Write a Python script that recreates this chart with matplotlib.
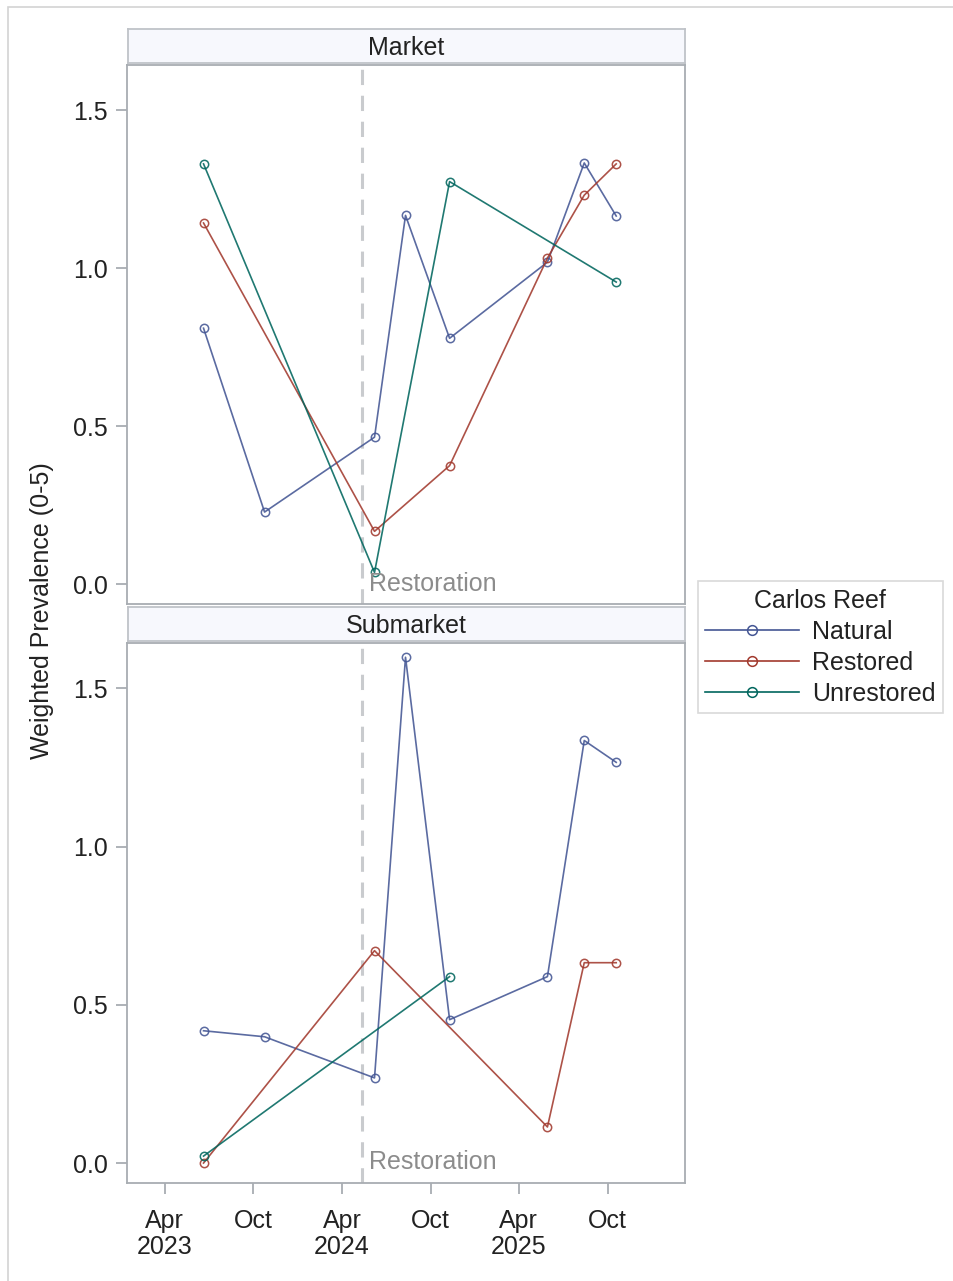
import matplotlib
matplotlib.use("Agg")
import matplotlib.pyplot as plt
from matplotlib.lines import Line2D
from matplotlib.patches import Rectangle
import pandas as pd

plt.rcParams['font.family'] = ['Liberation Sans', 'DejaVu Sans']

# ---------------- data ----------------
panels = ["Market", "Submarket"]
groups = ["Natural", "Restored", "Unrestored"]
colors = {"Natural": "#445694", "Restored": "#A23A2E", "Unrestored": "#01665E"}

market_natural_dates = ["2023-06-20", "2023-10-24", "2024-06-07", "2024-08-10", "2024-11-09", "2025-05-30", "2025-08-14", "2025-10-19"]
market_natural_vals = [0.81, 0.228, 0.465, 1.167, 0.778, 1.019, 1.333, 1.165]
market_restored_dates = ["2023-06-20", "2024-06-07", "2024-11-09", "2025-05-30", "2025-08-14", "2025-10-19"]
market_restored_vals = [1.143, 0.167, 0.375, 1.032, 1.231, 1.330]
market_unrestored_dates = ["2023-06-20", "2024-06-07", "2024-11-09", "2025-10-19"]
market_unrestored_vals = [1.330, 0.037, 1.274, 0.956]

sub_natural_dates = ["2023-06-20", "2023-10-24", "2024-06-07", "2024-08-10", "2024-11-09", "2025-05-30", "2025-08-14", "2025-10-19"]
sub_natural_vals = [0.418, 0.399, 0.269, 1.598, 0.453, 0.589, 1.335, 1.266]
sub_restored_dates = ["2023-06-20", "2024-06-07", "2025-05-30", "2025-08-14", "2025-10-19"]
sub_restored_vals = [0.0, 0.671, 0.114, 0.633, 0.633]
sub_unrestored_dates = ["2023-06-20", "2024-11-09"]
sub_unrestored_vals = [0.022, 0.589]

restoration_date = "2024-05-12"
restoration_label = "Restoration"
y_label = "Weighted Prevalence (0-5)"
legend_title = "Carlos Reef"
y_ticks = [0.0, 0.5, 1.0, 1.5]
x_ticks = ["2023-04-01", "2023-10-01", "2024-04-01", "2024-10-01", "2025-04-01", "2025-10-01"]
x_ticklabels = ["Apr\n2023", "Oct", "Apr\n2024", "Oct", "Apr\n2025", "Oct"]

data = {
    "Market": {
        "Natural": (market_natural_dates, market_natural_vals),
        "Restored": (market_restored_dates, market_restored_vals),
        "Unrestored": (market_unrestored_dates, market_unrestored_vals),
    },
    "Submarket": {
        "Natural": (sub_natural_dates, sub_natural_vals),
        "Restored": (sub_restored_dates, sub_restored_vals),
        "Unrestored": (sub_unrestored_dates, sub_unrestored_vals),
    },
}

# ---------------- figure ----------------
W, H = 954, 1281
fig = plt.figure(figsize=(W / 100, H / 100), dpi=100)
fig.patch.set_facecolor("white")

def fbox(x0, y0, x1, y1):
    return [x0 / W, 1 - y1 / H, (x1 - x0) / W, (y1 - y0) / H]

# outer frame
fig.patches.append(Rectangle((8 / W, -0.01), 1.0, 1 - 7 / H + 0.01, transform=fig.transFigure,
                             fill=False, edgecolor="#D3D3D3", linewidth=1.2))

xlim = (pd.Timestamp("2023-01-13"), pd.Timestamp("2026-03-10"))
ylim = (-0.063, 1.643)
spine_col = "#A8ADB2"
fs = 18

panel_boxes = {"Market": (127, 65, 685, 604), "Submarket": (127, 643, 685, 1183)}
header_boxes = {"Market": (128, 29, 685, 63), "Submarket": (128, 607, 685, 641)}

for p in panels:
    ax = fig.add_axes(fbox(*panel_boxes[p]))
    for g in groups:
        d, v = data[p][g]
        ax.plot(pd.to_datetime(d), v, color=colors[g], lw=1.2, marker="o", ms=6,
                mfc="none", mec=colors[g], mew=1.1, zorder=3, alpha=0.88)
    rd = pd.Timestamp(restoration_date)
    ax.axvline(rd, color="#C9CBCE", lw=2.2, ls=(0, (5, 3.5)), zorder=2)
    ax.text(rd + pd.Timedelta(days=14), 0.038, restoration_label, transform=ax.get_xaxis_transform(),
            color="#8C8C8C", fontsize=fs, ha="left", va="center")
    ax.set_xlim(*xlim)
    ax.set_ylim(*ylim)
    ax.set_yticks(y_ticks)
    ax.set_yticklabels([f"{t:.1f}" for t in y_ticks])
    for s in ax.spines.values():
        s.set_color(spine_col)
        s.set_linewidth(1.3)
    ax.tick_params(axis="both", colors=spine_col, labelcolor="#222222", labelsize=fs,
                   length=8, width=1.3, pad=6)
    ax.set_xticks(pd.to_datetime(x_ticks))
    if p == "Submarket":
        ax.set_xticklabels(x_ticklabels, linespacing=1.1)
        ax.tick_params(axis="x", pad=11)
    else:
        ax.tick_params(axis="x", length=0, labelbottom=False)

    hx = fig.add_axes(fbox(*header_boxes[p]))
    hx.set_facecolor("#F7F8FD")
    hx.set_xticks([]); hx.set_yticks([])
    for s in hx.spines.values():
        s.set_color("#BFC3C8")
        s.set_linewidth(1.3)
    hx.text(0.5, 0.45, p, ha="center", va="center", fontsize=fs, color="#222222",
            transform=hx.transAxes)

fig.text(42 / W, 1 - 611 / H, y_label, rotation=90, ha="center", va="center",
         fontsize=fs, color="#222222")

handles = [Line2D([0], [0], color=colors[g], lw=1.2, marker="o", ms=7, mfc="none",
                  mec=colors[g], mew=1.1) for g in groups]
leg = fig.legend(handles, groups, title=legend_title, loc="upper left",
                 bbox_to_anchor=(698 / W, 1 - 581 / H), fontsize=fs, title_fontsize=fs,
                 frameon=True, fancybox=False, handlelength=3.75, handletextpad=0.5,
                 borderpad=0.3, labelspacing=0.28, borderaxespad=0)
leg.get_frame().set_edgecolor("#D0D0D0")
leg.get_frame().set_linewidth(1.2)
for t in leg.get_texts():
    t.set_color("#222222")
leg.get_title().set_color("#222222")

fig.savefig("out.png", dpi=100)
